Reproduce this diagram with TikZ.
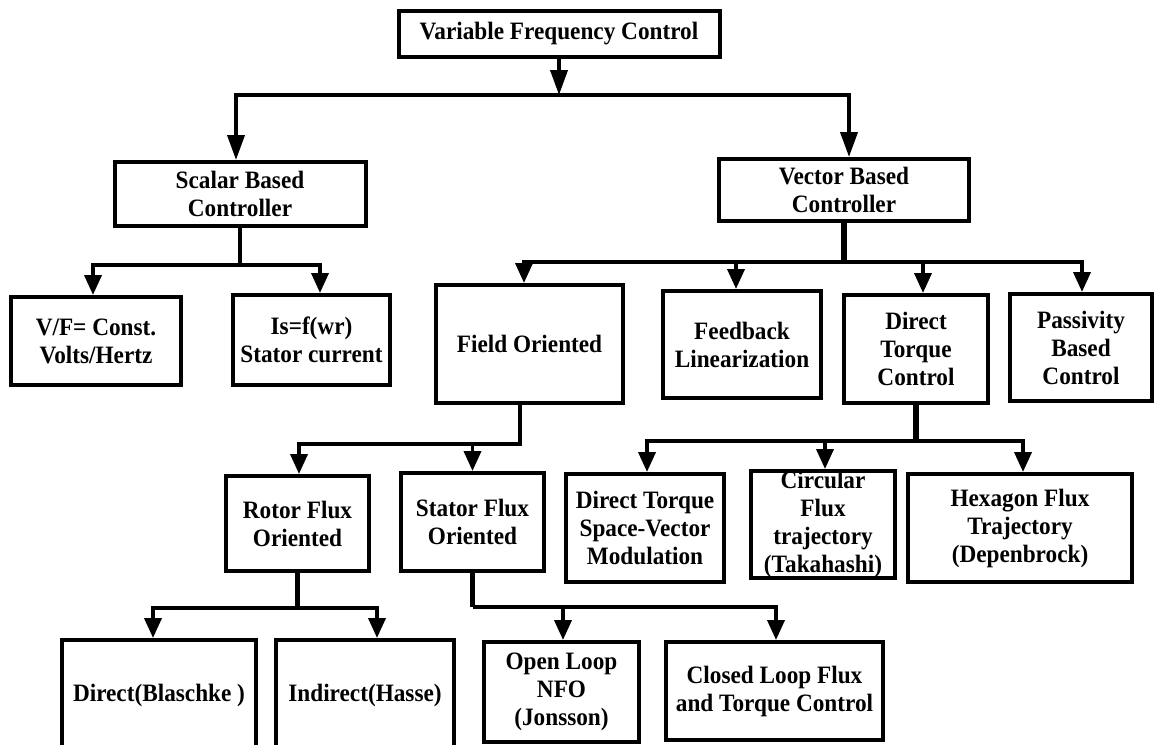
\documentclass[tikz,border=0pt]{standalone}
\usepackage{fontspec}
\setmainfont{Liberation Serif}[FakeStretch=0.93]
\usetikzlibrary{arrows.meta}
\begin{document}
\begin{tikzpicture}[x=1pt,y=-1pt,
  box/.style={draw, line width=4pt, inner sep=0pt, align=center,
    font=\fontsize{25}{28}\selectfont\bfseries},
  wire/.style={line width=3.8pt},
  arr/.style={wire, -{Triangle[length=20pt,width=17pt]}},
  bigarr/.style={wire, -{Triangle[length=25pt,width=17pt]}},
  stub/.style={line width=5.5pt}]
\fill[white] (0,0) rectangle (1155,744);
\useasboundingbox (0,0) rectangle (1155,744);

% ---- boxes ----
\node[box, minimum width=321pt, minimum height=46pt] (vfc) at (559,34) {Variable Frequency Control};

\node[box, minimum width=251pt, minimum height=64pt] (scalar) at (240,194) {Scalar Based\\Controller};
\node[box, minimum width=250pt, minimum height=62pt] (vector) at (844,190) {Vector Based\\Controller};

\node[box, minimum width=170pt, minimum height=88pt] (vf) at (96,341) {V/F= Const.\\Volts/Hertz};
\node[box, minimum width=157pt, minimum height=90pt] (is) at (311.5,340) {Is=f(wr)\\Stator current};

\node[box, minimum width=187pt, minimum height=118pt] (field) at (529.5,344) {Field Oriented};
\node[box, minimum width=158pt, minimum height=107pt] (feedback) at (742,344.5) {Feedback\\Linearization};
\node[box, minimum width=144pt, minimum height=108pt] (dtc) at (916,349) {Direct\\Torque\\Control};
\node[box, minimum width=142pt, minimum height=107pt] (passivity) at (1081,347.5) {Passivity\\Based\\Control};

\node[box, minimum width=143pt, minimum height=95pt] (rotor) at (297.5,523.5) {Rotor Flux\\Oriented};
\node[box, minimum width=143pt, minimum height=98pt] (stator) at (472.5,522) {Stator Flux\\Oriented};

\node[box, minimum width=158pt, minimum height=108pt] (dtsvm) at (645,528) {Direct Torque\\Space-Vector\\Modulation};
\node[box, minimum width=144pt, minimum height=107pt] (circular) at (823,524.5) {Circular\\Flux\\trajectory\\(Takahashi)};
\node[box, minimum width=224pt, minimum height=108pt] (hexagon) at (1020,528) {Hexagon Flux\\Trajectory\\(Depenbrock)};

\node[box, minimum width=194pt, minimum height=110pt] (direct) at (159,695) {Direct(Blaschke )};
\node[box, minimum width=178pt, minimum height=110pt] (indirect) at (365,695) {Indirect(Hasse)};
\node[box, minimum width=155pt, minimum height=100pt] (openloop) at (561.5,692) {Open Loop\\NFO\\(Jonsson)};
\node[box, minimum width=217pt, minimum height=98pt] (closedloop) at (774.5,691) {Closed Loop Flux\\and Torque Control};

% ---- junction levels ----
\coordinate (jTop) at (559,95);
\coordinate (hS) at (0,265);
\coordinate (hV) at (0,262);
\coordinate (hF) at (0,444);
\coordinate (hD) at (0,441);
\coordinate (hR) at (0,608);
\coordinate (hT) at (0,607);

% ---- connectors ----
\draw[bigarr] (vfc.south) -- (jTop);
\draw[bigarr] (jTop) -| ([xshift=-4pt]scalar.north);
\draw[bigarr] (jTop) -| ([xshift=5pt]vector.north);

\draw[arr] (scalar.south) -- (scalar.south |- hS) -| ([xshift=-3pt]vf.north);
\draw[arr] (scalar.south) -- (scalar.south |- hS) -| ([xshift=8.5pt]is.north);

\draw[stub] (vector.south) -- (vector.south |- hV);
\draw[arr] (vector.south |- hV) -| ([xshift=-5.5pt]field.north);
\draw[arr] (vector.south |- hV) -| ([xshift=-6pt]feedback.north);
\draw[arr] (vector.south |- hV) -| ([xshift=7pt]dtc.north);
\draw[arr] (vector.south |- hV) -| ([xshift=1pt]passivity.north);

\draw[arr] ([xshift=-9.5pt]field.south) -- ([xshift=-9.5pt]field.south |- hF) -| ([xshift=1.5pt]rotor.north);
\draw[arr] ([xshift=-9.5pt]field.south) -- ([xshift=-9.5pt]field.south |- hF) -| (stator.north);

\draw[stub] (dtc.south) -- (dtc.south |- hD);
\draw[arr] (dtc.south |- hD) -| ([xshift=2pt]dtsvm.north);
\draw[arr] (dtc.south |- hD) -| ([xshift=2pt]circular.north);
\draw[arr] (dtc.south |- hD) -| ([xshift=3pt]hexagon.north);

\draw[stub] (rotor.south) -- (rotor.south |- hR);
\draw[arr] (rotor.south |- hR) -| ([xshift=-6pt]direct.north);
\draw[arr] (rotor.south |- hR) -| ([xshift=12pt]indirect.north);

\draw[stub] (stator.south) -- (stator.south |- hT);
\draw[arr] (stator.south |- hT) -| ([xshift=1.5pt]openloop.north);
\draw[arr] (stator.south |- hT) -| ([xshift=1.5pt]closedloop.north);
\end{tikzpicture}
\end{document}
